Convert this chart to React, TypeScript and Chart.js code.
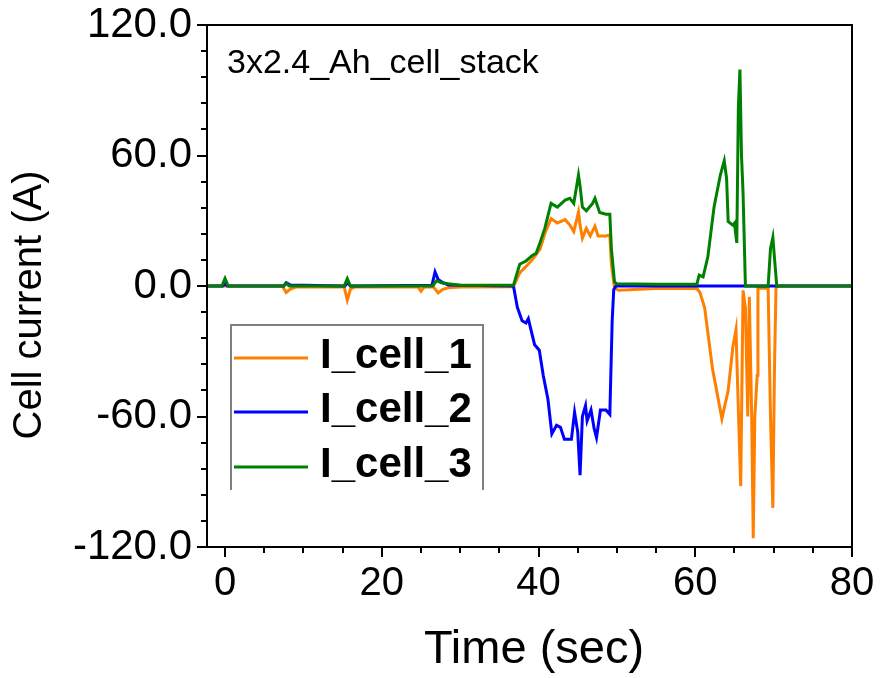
import React, { useEffect, useRef } from 'react';
import { Chart, registerables } from 'chart.js';

Chart.register(...registerables);

const FONT = "Arial, 'Liberation Sans', sans-serif";

const seriesLabels = ['I_cell_1', 'I_cell_2', 'I_cell_3'];
const seriesColors = ['#FF8000', '#0000FF', '#008000'];

// I_cell_1 (orange)
const t1 = [-2.3, 7.3, 7.8, 8.3, 9, 15.2, 15.6, 16.0, 16.5, 24.6, 25.0, 25.4, 26.6, 27.2, 27.8, 28.5, 30, 36.8,
  37.6, 38.4, 39.2, 40.2, 40.8, 41.6, 42.4, 43.4, 44, 44.5, 45.1, 45.3, 45.6, 46.1, 46.6, 47.2, 47.6, 48.6, 49.1,
  49.3, 49.7, 50.2, 55, 60.2, 60.6, 61.2, 62.2, 63.4, 64.2, 64.8, 65.2, 65.4, 65.8, 66.1, 66.4, 66.7, 66.9, 67.2,
  67.4, 67.6, 67.9, 68.0, 69.3, 69.6, 69.9, 70.1, 70.3, 70.6, 80];
const i1 = [0, 0, -3, -1.5, -0.5, -0.3, -6.5, -1.5, -0.5, -0.3, -2.4, -0.5, -0.5, -3.2, -1.5, -0.8, -0.5, -0.3,
  6, 9, 12, 17, 24, 31, 29, 30.5, 28, 25, 34, 28, 22, 26.5, 23, 27.5, 23, 23, 23.5,
  10, -1, -2, -1.2, -1.2, -3, -10, -38, -61, -48, -28, -20, -45, -92, -2, -10, -60, -5, -60,
  -116, -60, -41, -1, -1, -60, -102, -40, -1, 0, 0];

// I_cell_2 (blue)
const t2 = [-2.3, -0.3, 0, 0.3, 7.5, 7.8, 8.3, 15.3, 15.6, 16, 26.4, 26.8, 27.2, 27.8, 28.5, 30, 36.8,
  37.3, 37.9, 38.4, 38.7, 39, 39.5, 40.1, 40.6, 41.2, 41.7, 42.3, 42.8, 43.3, 44.2, 44.6, 45.0, 45.3, 45.6,
  46.0, 46.2, 46.7, 47.1, 47.4, 47.9, 48.6, 49.1, 49.4, 49.6, 49.9, 80];
const i2 = [0, 0, 1, 0, 0, 1.5, 0.5, 0, 1.5, 0, 0.3, 6.5, 3, 1.5, 0.5, 0.3, 0,
  -9.8, -16, -17, -15, -19.6, -27, -29.5, -41, -52, -68, -64, -65, -70.5, -70.5, -58, -67, -87, -60,
  -55, -62, -57, -65.6, -69.7, -57, -57, -59, -16, -1.6, 0, 0];

// I_cell_3 (green)
const t3 = [-2.3, -0.4, 0, 0.4, 7.5, 7.8, 8.2, 15.2, 15.6, 16, 26.5, 27, 27.6, 28.5, 30, 36.8,
  37.6, 38.4, 39.2, 39.7, 40.2, 40.8, 41.6, 42.4, 43.4, 44, 44.5, 45.1, 45.3, 45.6, 46.1, 46.9, 47.2, 47.8,
  48.6, 49.1, 49.3, 49.7, 50, 55, 60.2, 60.5, 61, 61.6, 62.4, 63.2, 63.7, 64, 64.2, 64.8, 65, 65.3, 65.5,
  65.7, 65.9, 66.1, 66.4, 69.3, 69.6, 69.9, 70.1, 70.4, 80];
const i3 = [0, 0, 3.5, 0, 0, 1.2, 0, 0, 3.4, 0, 0, 2.5, 1.5, 1, 0.3, 0.3,
  10, 11.5, 14, 15, 20, 26.5, 38, 36.3, 39.5, 40.3, 38, 51, 46, 36.3, 34.6, 38, 40.3, 33.8,
  33, 33, 17, 1.8, 1, 0.8, 0.8, 5, 4.2, 13.3, 36.3, 51, 57.6, 49.4, 29.7, 28, 28.9, 19.8, 82,
  99.5, 60, 42.8, 0, 0, 17.2, 22.3, 13.3, 0, 0];

const xMajorTicks = [0, 20, 40, 60, 80];
const xMinorStep = 5;
const yMajorTicks = [-120, -60, 0, 60, 120];
const yMinorStep = 12;
const xTitle = 'Time (sec)';
const yTitle = 'Cell current (A)';
const noteText = '3x2.4_Ah_cell_stack';

const seriesTimes = [t1, t2, t3];
const seriesValues = [i1, i2, i3];

const inList = (v: number, list: number[]) => list.some((l) => Math.abs(l - v) < 1e-6);

const buildTicks = (majors: number[], step: number) => {
  const out: { value: number }[] = [];
  const lo = majors[0];
  const hi = majors[majors.length - 1];
  const n = Math.round((hi - lo) / step);
  for (let k = 0; k <= n; k++) out.push({ value: Math.round((lo + k * step) * 1000) / 1000 });
  return out;
};

const decorPlugin = {
  id: 'decor',
  afterDraw(chart: any) {
    const { ctx, chartArea } = chart;
    const { left, right, top, bottom } = chartArea;
    const xs = chart.scales.x;
    const ys = chart.scales.y;
    ctx.save();
    // frame
    ctx.strokeStyle = '#000';
    ctx.lineWidth = 2;
    ctx.strokeRect(left, top, right - left, bottom - top);
    // y ticks
    ys.ticks.forEach((t: any) => {
      const py = Math.round(ys.getPixelForValue(t.value));
      const len = inList(t.value, yMajorTicks) ? 10 : 6;
      ctx.beginPath();
      ctx.moveTo(left - len, py);
      ctx.lineTo(left, py);
      ctx.stroke();
    });
    // x ticks
    xs.ticks.forEach((t: any) => {
      const px = Math.round(xs.getPixelForValue(t.value));
      const len = inList(t.value, xMajorTicks) ? 10 : 6;
      ctx.beginPath();
      ctx.moveTo(px, bottom);
      ctx.lineTo(px, bottom + len);
      ctx.stroke();
    });
    // axis titles
    ctx.fillStyle = '#000';
    ctx.font = `40px ${FONT}`;
    ctx.textAlign = 'center';
    ctx.textBaseline = 'alphabetic';
    ctx.save();
    ctx.translate(41, 305);
    ctx.rotate(-Math.PI / 2);
    ctx.fillText(yTitle, 0, 0);
    ctx.restore();
    ctx.font = `47px ${FONT}`;
    ctx.fillText(xTitle, 534, 663);
    // note
    ctx.textAlign = 'left';
    ctx.font = `34px ${FONT}`;
    ctx.fillText(noteText, left + 20, top + 48);
    // legend box (left, top, right sides)
    const bx0 = left + 24, bx1 = left + 276, by0 = top + 300, by1 = top + 465;
    ctx.strokeStyle = '#808080';
    ctx.lineWidth = 2;
    ctx.beginPath();
    ctx.moveTo(bx0, by1);
    ctx.lineTo(bx0, by0);
    ctx.lineTo(bx1, by0);
    ctx.lineTo(bx1, by1);
    ctx.stroke();
    const rowY = [by0 + 33, by0 + 87, by0 + 142];
    seriesLabels.forEach((lab, k) => {
      ctx.strokeStyle = seriesColors[k];
      ctx.lineWidth = 3;
      ctx.beginPath();
      ctx.moveTo(bx0 + 3, rowY[k]);
      ctx.lineTo(bx0 + 77, rowY[k]);
      ctx.stroke();
      ctx.fillStyle = '#000';
      ctx.font = `bold 42px ${FONT}`;
      ctx.fillText(lab, bx0 + 89, rowY[k] + 10);
    });
    ctx.restore();
  },
};

export default function App() {
  const ref = useRef<HTMLCanvasElement | null>(null);
  useEffect(() => {
    if (!ref.current) return;
    const datasets = seriesLabels.map((lab, k) => ({
      label: lab,
      data: seriesTimes[k].map((t, j) => ({ x: t, y: seriesValues[k][j] })),
      borderColor: seriesColors[k],
      backgroundColor: seriesColors[k],
      borderWidth: 3,
      pointRadius: 0,
      tension: 0,
      fill: false,
      order: 2 - k,
    }));
    const chart = new Chart(ref.current, {
      type: 'line',
      data: { datasets },
      options: {
        animation: false,
        responsive: false,
        parsing: false as any,
        layout: { padding: { top: 25, right: 33, left: 0, bottom: 0 } },
        plugins: { legend: { display: false }, tooltip: { enabled: false } },
        scales: {
          x: {
            type: 'linear',
            min: -2.3,
            max: 80,
            grid: { display: false, drawTicks: false },
            border: { display: false },
            afterFit: (s: any) => {
              s.height = 131;
              s.paddingLeft = 0;
              s.paddingRight = 0;
            },
            afterBuildTicks: (s: any) => { s.ticks = buildTicks(xMajorTicks, xMinorStep); },
            ticks: {
              autoSkip: false,
              maxRotation: 0,
              padding: 13,
              color: '#000',
              font: { family: FONT, size: 40 },
              callback: (v: any) => (inList(Number(v), xMajorTicks) ? String(Math.round(Number(v))) : ''),
            },
          },
          y: {
            type: 'linear',
            min: -120,
            max: 120,
            grid: { display: false, drawTicks: false },
            border: { display: false },
            afterFit: (s: any) => {
              s.width = 207;
              s.paddingTop = 0;
              s.paddingBottom = 0;
            },
            afterBuildTicks: (s: any) => { s.ticks = buildTicks(yMajorTicks, yMinorStep); },
            ticks: {
              autoSkip: false,
              padding: 15,
              color: '#000',
              font: { family: FONT, size: 42 },
              callback: (v: any) => (inList(Number(v), yMajorTicks) ? Number(v).toFixed(1) : ''),
            },
          },
        },
      },
      plugins: [decorPlugin],
    });
    return () => chart.destroy();
  }, []);
  return (
    <div style={{ position: 'fixed', left: 0, top: 0, width: 885, height: 678, background: '#fff' }}>
      <canvas ref={ref} width={885} height={678} style={{ display: 'block' }} />
    </div>
  );
}
